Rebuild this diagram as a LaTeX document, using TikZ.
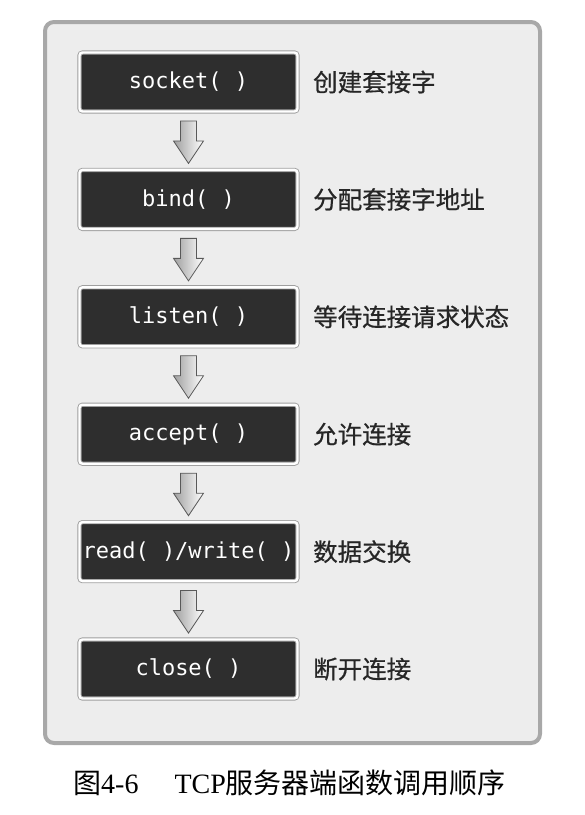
\documentclass[tikz,border=0pt]{standalone}
\usepackage{fontspec}
\setmainfont{Liberation Serif}
\setmonofont{DejaVu Sans Mono}
\newfontfamily\cjk{Noto Sans CJK SC}
\newfontfamily\cjkm[FakeBold=0.6]{Noto Sans CJK SC}
\usetikzlibrary{calc}
\definecolor{boxdark}{HTML}{2E2E2E}
\definecolor{panelfill}{HTML}{EDEDED}
\definecolor{panelline}{HTML}{A8A8A8}
\tikzset{
  fnbox/.style={draw=gray!75, line width=0.9pt, double=white, double distance=2.4pt,
    fill=boxdark, rounded corners=3pt, minimum width=218pt, minimum height=59pt,
    inner sep=0pt, text=white, font=\ttfamily\fontsize{22}{22}\selectfont},
  desc/.style={anchor=west, inner sep=0pt, font=\cjkm\fontsize{24.5}{24.5}\selectfont, text=black!85},
  blockarrow/.style={draw=gray!70!black, line width=0.8pt, left color=gray!75, right color=white, line join=miter},
}
\begin{document}
\begin{tikzpicture}[x=1pt,y=-1pt]
\useasboundingbox (0,0) rectangle (585,815);
\draw[line width=4pt, draw=panelline, fill=panelfill, rounded corners=9pt] (45,22) rectangle (540,743);
\node[fnbox] (b1) at (188.5,82) {socket( )};
\node[fnbox] (b2) at (188.5,199.4) {bind( )};
\node[fnbox] (b3) at (188.5,316.8) {listen( )};
\node[fnbox] (b4) at (188.5,434.2) {accept( )};
\node[fnbox] (b5) at (188.5,551.6) {read( )/write( )};
\node[fnbox] (b6) at (188.5,669) {close( )};
\node[desc] (d1) at (313,82) {创建套接字};
\node[desc] (d2) at (313,199.4) {分配套接字地址};
\node[desc] (d3) at (313,316.8) {等待连接请求状态};
\node[desc] (d4) at (313,434.2) {允许连接};
\node[desc] (d5) at (313,551.6) {数据交换};
\node[desc] (d6) at (313,669) {断开连接};
\foreach \a/\b in {b1/b2,b2/b3,b3/b4,b4/b5,b5/b6}{
  \draw[blockarrow] ($(\a.south)+(-8,9)$) -- ($(\a.south)+(-8,29)$) -- ($(\a.south)+(-15,29)$)
    -- ($(\b.north)+(0,-6)$) -- ($(\a.south)+(15,29)$) -- ($(\a.south)+(8,29)$)
    -- ($(\a.south)+(8,9)$) -- cycle;
}
\node[anchor=base west, inner sep=0pt, font=\fontsize{28}{28}\selectfont] (cap) at (73,793)
  {{\cjk 图}4-6\hspace{36pt}TCP{\cjk 服务器端函数调用顺序}};
\end{tikzpicture}
\end{document}
